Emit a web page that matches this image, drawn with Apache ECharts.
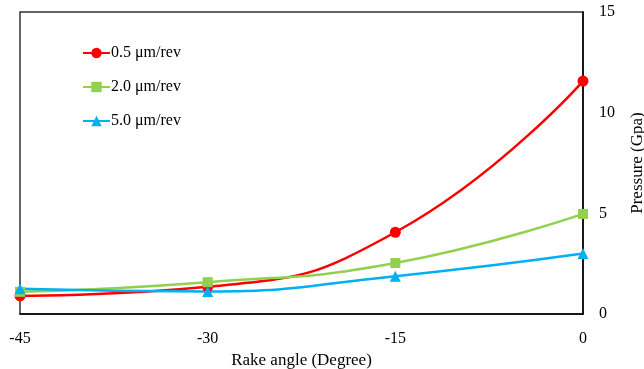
<!DOCTYPE html>
<html>
<head>
<meta charset="utf-8">
<script src="https://cdn.jsdelivr.net/npm/echarts@6/dist/echarts.min.js"></script>
<style>html,body{margin:0;padding:0;background:#fff;}#c{width:644px;height:369px;}</style>
</head>
<body>
<div id="c"></div>
<script>
const rakeAngles = [-45, -30, -15, 0];
const feed05 = [0.9, 1.35, 4.06, 11.57];
const feed20 = [1.1, 1.58, 2.53, 4.97];
const feed50 = [1.25, 1.12, 1.88, 3.0];
const seriesNames = ['0.5 μm/rev', '2.0 μm/rev', '5.0 μm/rev'];
const xTicks = { min: -45, max: 0, interval: 15 };
const yTicks = { min: 0, max: 15, interval: 5 };

const font = 'Liberation Serif, Times New Roman, serif';
const chart = echarts.init(document.getElementById('c'));
function pairs(vals) { return rakeAngles.map((x, i) => [x, vals[i]]); }
const colors = ['#FF0000', '#92D050', '#00B0F0'];
const symbols = ['circle', 'rect', 'triangle'];
const sizes = [11, 10, 11];
const datasets = [feed05, feed20, feed50];
chart.setOption({
  animation: false,
  grid: { left: 20, right: 61, top: 12, bottom: 55, show: true, borderColor: '#333', borderWidth: 1.5,
          containLabel: false, outerBoundsMode: 'none' },
  legend: {
    orient: 'vertical', left: 77, top: 40, itemWidth: 27, itemHeight: 13, itemGap: 18,
    textStyle: { fontFamily: font, fontSize: 16, color: '#000', padding: [0, 0, 0, -4] },
    data: seriesNames.map((n, i) => ({ name: n, itemStyle: { color: colors[i] } }))
  },
  xAxis: {
    type: 'value', min: xTicks.min, max: xTicks.max, interval: xTicks.interval,
    axisLine: { show: true, lineStyle: { color: '#000', width: 1.5 } },
    axisTick: { show: false }, splitLine: { show: false },
    axisLabel: { fontFamily: font, fontSize: 16, color: '#000', margin: 17 },
    name: 'Rake angle (Degree)', nameLocation: 'middle', nameGap: 32,
    nameTextStyle: { fontFamily: font, fontSize: 17, color: '#000' }
  },
  yAxis: {
    type: 'value', position: 'right', min: yTicks.min, max: yTicks.max, interval: yTicks.interval,
    axisLine: { show: true, lineStyle: { color: '#000', width: 1.5 } },
    axisTick: { show: false }, splitLine: { show: false },
    axisLabel: { fontFamily: font, fontSize: 16, color: '#000', margin: 16 },
    name: 'Pressure (Gpa)', nameLocation: 'middle', nameGap: 46, nameRotate: 90,
    nameTextStyle: { fontFamily: font, fontSize: 17, color: '#000' }
  },
  series: datasets.map((d, i) => ({
    name: seriesNames[i], type: 'line', smooth: 0.5, clip: false,
    data: pairs(d), symbol: symbols[i], symbolSize: sizes[i],
    lineStyle: { color: colors[i], width: 2.5 },
    itemStyle: { color: colors[i] }
  }))
});
</script>
</body>
</html>
